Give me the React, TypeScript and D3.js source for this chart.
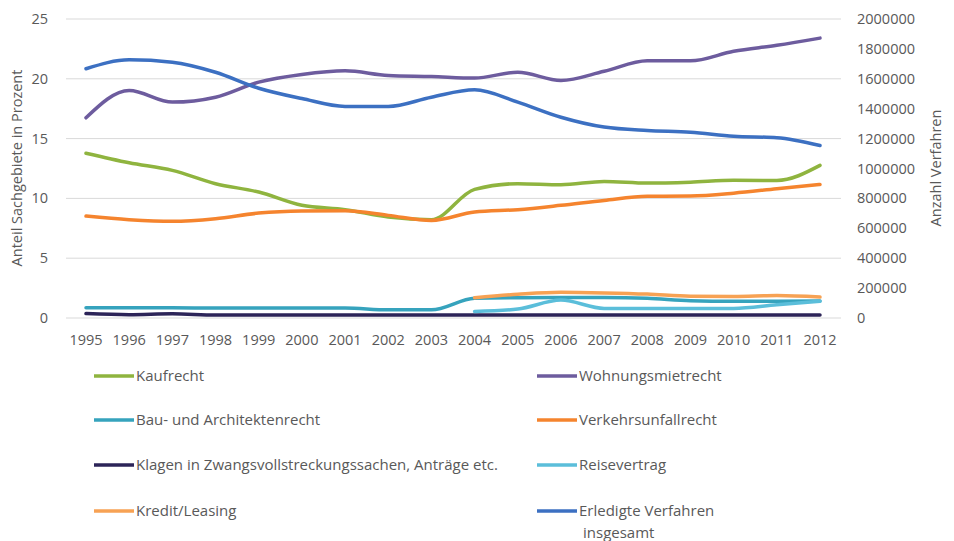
import React from "react";
import * as d3 from "d3";

const years = ["1995","1996","1997","1998","1999","2000","2001","2002","2003","2004","2005","2006","2007","2008","2009","2010","2011","2012"];
const kaufrecht = [13.78, 12.98, 12.34, 11.23, 10.53, 9.42, 9.06, 8.44, 8.22, 10.75, 11.23, 11.14, 11.42, 11.28, 11.36, 11.52, 11.5, 12.76];
const wohnungsmietrecht = [16.74, 19.02, 18.05, 18.46, 19.72, 20.36, 20.67, 20.28, 20.19, 20.06, 20.55, 19.86, 20.63, 21.5, 21.5, 22.3, 22.8, 23.4];
const bau = [0.85, 0.85, 0.85, 0.84, 0.84, 0.84, 0.84, 0.68, 0.68, 1.65, 1.7, 1.72, 1.72, 1.65, 1.45, 1.4, 1.4, 1.42];
const verkehrsunfallrecht = [8.52, 8.22, 8.08, 8.3, 8.77, 8.94, 8.96, 8.58, 8.16, 8.86, 9.06, 9.42, 9.83, 10.17, 10.2, 10.44, 10.81, 11.17];
const klagen = [0.37, 0.28, 0.35, 0.25, 0.25, 0.25, 0.25, 0.25, 0.25, 0.25, 0.25, 0.25, 0.25, 0.25, 0.25, 0.25, 0.25, 0.25];
const reisevertrag = [null, null, null, null, null, null, null, null, null, 0.55, 0.75, 1.5, 0.8, 0.8, 0.8, 0.8, 1.1, 1.4];
const kreditLeasing = [null, null, null, null, null, null, null, null, null, 1.7, 1.98, 2.15, 2.1, 2.0, 1.82, 1.8, 1.88, 1.75];
const erledigteVerfahren = [1667000, 1727000, 1711000, 1644000, 1537000, 1468000, 1415000, 1415000, 1477000, 1526000, 1444000, 1343000, 1277000, 1254000, 1243000, 1216000, 1206000, 1154000];

const leftTicks = [0, 5, 10, 15, 20, 25];
const rightTicks = [0, 200000, 400000, 600000, 800000, 1000000, 1200000, 1400000, 1600000, 1800000, 2000000];

const series = [
  { name: "Kaufrecht", values: kaufrecht, color: "#8FB43F", axis: "left" },
  { name: "Wohnungsmietrecht", values: wohnungsmietrecht, color: "#6D5C9E", axis: "left" },
  { name: "Bau- und Architektenrecht", values: bau, color: "#36A3BD", axis: "left" },
  { name: "Verkehrsunfallrecht", values: verkehrsunfallrecht, color: "#F5842E", axis: "left" },
  { name: "Klagen in Zwangsvollstreckungssachen, Anträge etc.", values: klagen, color: "#2C2458", axis: "left" },
  { name: "Reisevertrag", values: reisevertrag, color: "#5BBEDA", axis: "left" },
  { name: "Kredit/Leasing", values: kreditLeasing, color: "#F7A254", axis: "left" },
  { name: "Erledigte Verfahren insgesamt", values: erledigteVerfahren, color: "#3C70C2", axis: "right" },
];

const W = 954, H = 541;
const FONT = "'Open Sans', sans-serif";
const TXT = "#595959";

export default function App() {
  const x = d3.scalePoint<string>().domain(years).range([86, 820]);
  const yL = d3.scaleLinear().domain([0, 25]).range([318, 19]);
  const yR = d3.scaleLinear().domain([0, 2000000]).range([318, 19]);

  const legendPos = [
    [94, 376], [537, 376],
    [94, 420], [537, 420],
    [94, 465], [537, 465],
    [94, 511], [537, 511],
  ];

  return (
    <svg width={W} height={H} style={{ position: "absolute", left: 0, top: 0, background: "#fff" }} fontFamily={FONT}>
      <rect width={W} height={H} fill="#fff" />
      {leftTicks.map((t) => (
        <line key={"g" + t} x1={66} x2={841} y1={yL(t)} y2={yL(t)} stroke="#D9D9D9" strokeWidth={1} />
      ))}
      {leftTicks.map((t) => (
        <text key={"l" + t} x={48} y={yL(t)} dy="0.35em" textAnchor="end" fontSize={14.5} fill={TXT}>{t}</text>
      ))}
      {rightTicks.map((t) => (
        <text key={"r" + t} x={857} y={yR(t)} dy="0.35em" textAnchor="start" fontSize={14.5} fill={TXT}>{t}</text>
      ))}
      {years.map((yv) => (
        <text key={"x" + yv} x={x(yv)} y={340} dy="0.35em" textAnchor="middle" fontSize={14.5} fill={TXT}>{yv}</text>
      ))}
      <text transform="translate(17,168) rotate(-90)" textAnchor="middle" dy="0.35em" fontSize={14.5} fill={TXT}>Anteil Sachgebiete in Prozent</text>
      <text transform="translate(936,168) rotate(-90)" textAnchor="middle" dy="0.35em" fontSize={14.5} fill={TXT}>Anzahl Verfahren</text>
      {series.map((s) => {
        const ys = s.axis === "left" ? yL : yR;
        const gen = d3
          .line<number | null>()
          .defined((d) => d !== null)
          .x((_, i) => x(years[i]) as number)
          .y((d) => ys(d as number))
          .curve(d3.curveMonotoneX);
        return (
          <path key={s.name} d={gen(s.values as (number | null)[]) || ""} fill="none" stroke={s.color} strokeWidth={3.5} strokeLinejoin="round" strokeLinecap="round" />
        );
      })}
      {series.map((s, i) => {
        const [lx, ly] = legendPos[i];
        const isLast = s.name === "Erledigte Verfahren insgesamt";
        return (
          <g key={"lg" + s.name}>
            <line x1={lx} x2={lx + 40} y1={ly} y2={ly} stroke={s.color} strokeWidth={3.5} />
            {isLast ? (
              <text x={lx + 42} y={ly} dy="0.35em" fontSize={15} fill={TXT}>
                <tspan x={lx + 42}>Erledigte Verfahren</tspan>
                <tspan x={lx + 46} dy={22}>insgesamt</tspan>
              </text>
            ) : (
              <text x={lx + 42} y={ly} dy="0.35em" fontSize={15} fill={TXT}>{s.name}</text>
            )}
          </g>
        );
      })}
    </svg>
  );
}
